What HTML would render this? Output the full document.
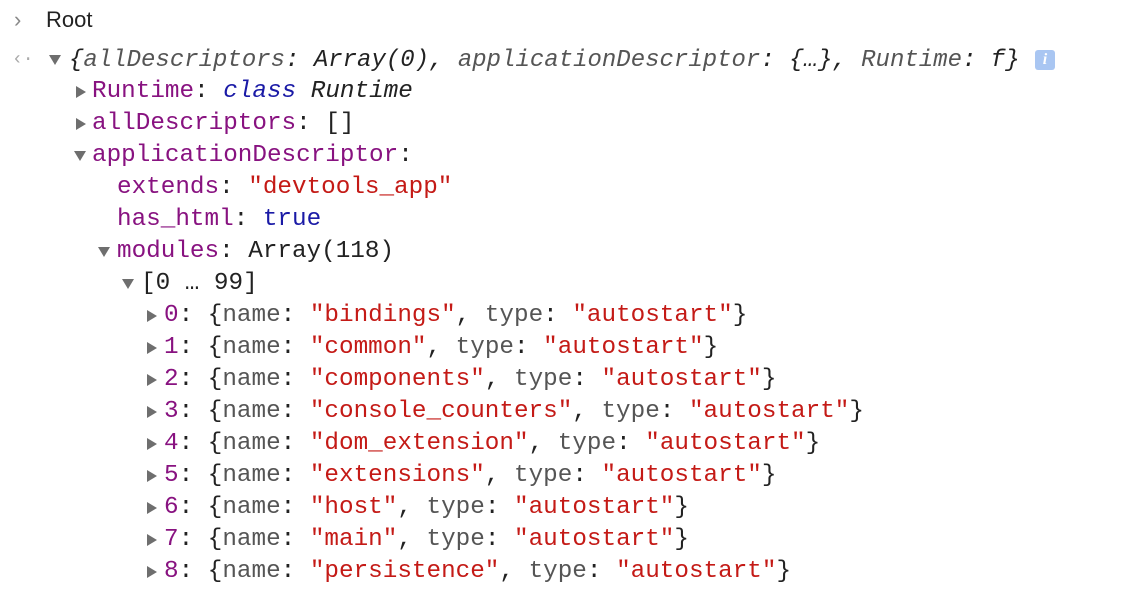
<!DOCTYPE html>
<html><head><meta charset="utf-8"><style>
html,body{margin:0;padding:0;background:#fff;width:1144px;height:592px;overflow:hidden}
.l{position:absolute;height:32px;line-height:32px;font-family:"Liberation Mono","DejaVu Sans Mono",monospace;font-size:24.3px;color:#222;white-space:pre}
.k{color:#881280}.s{color:#c41a16}.b{color:#1a1aa6}.g{color:#555}.i{font-style:italic}
.tr{position:absolute;width:0;height:0;border-top:6px solid transparent;border-bottom:6px solid transparent;border-left:10px solid #6e6e6e}
.td{position:absolute;width:0;height:0;border-left:6px solid transparent;border-right:6px solid transparent;border-top:10px solid #6e6e6e}
</style></head><body>
<div class="l" style="left:14px;top:4px;color:#888;font-family:'Liberation Sans',sans-serif;font-size:22px">›</div>
<div class="l" style="left:46px;top:4px;font-family:'Liberation Sans',sans-serif;font-size:22px;color:#222">Root</div>
<div class="l" style="left:12px;top:44px;color:#aaa;font-size:18px">‹·</div>
<div class="td" style="left:49px;top:55px"></div>
<div class="l i" style="left:69px;top:45px;font-size:24px">{<span class="g">allDescriptors</span>: Array(0), <span class="g">applicationDescriptor</span>: {…}, <span class="g">Runtime</span>: f}</div>
<div style="position:absolute;left:1035px;top:50px;width:20px;height:20px;background:#a9c6f2;border-radius:3px;color:#fff;font:italic bold 16px 'Liberation Serif',serif;text-align:center;line-height:20px">i</div>

<div class="tr" style="left:76px;top:86px"></div>
<div class="l" style="left:92px;top:76px"><span class="k">Runtime</span>: <span class="b i">class</span> <span class="i">Runtime</span></div>
<div class="tr" style="left:76px;top:118px"></div>
<div class="l" style="left:92px;top:108px"><span class="k">allDescriptors</span>: []</div>
<div class="td" style="left:74px;top:151px"></div>
<div class="l" style="left:92px;top:140px"><span class="k">applicationDescriptor</span>:</div>
<div class="l" style="left:117px;top:172px"><span class="k">extends</span>: <span class="s">"devtools_app"</span></div>
<div class="l" style="left:117px;top:204px"><span class="k">has_html</span>: <span class="b">true</span></div>
<div class="td" style="left:98px;top:247px"></div>
<div class="l" style="left:117px;top:236px"><span class="k">modules</span>: Array(118)</div>
<div class="td" style="left:122px;top:279px"></div>
<div class="l" style="left:141px;top:268px">[0 … 99]</div>

<div class="tr" style="left:147px;top:310px"></div>
<div class="l" style="left:164px;top:300px"><span class="k">0</span>: {<span class="g">name</span>: <span class="s">"bindings"</span>, <span class="g">type</span>: <span class="s">"autostart"</span>}</div>
<div class="tr" style="left:147px;top:342px"></div>
<div class="l" style="left:164px;top:332px"><span class="k">1</span>: {<span class="g">name</span>: <span class="s">"common"</span>, <span class="g">type</span>: <span class="s">"autostart"</span>}</div>
<div class="tr" style="left:147px;top:374px"></div>
<div class="l" style="left:164px;top:364px"><span class="k">2</span>: {<span class="g">name</span>: <span class="s">"components"</span>, <span class="g">type</span>: <span class="s">"autostart"</span>}</div>
<div class="tr" style="left:147px;top:406px"></div>
<div class="l" style="left:164px;top:396px"><span class="k">3</span>: {<span class="g">name</span>: <span class="s">"console_counters"</span>, <span class="g">type</span>: <span class="s">"autostart"</span>}</div>
<div class="tr" style="left:147px;top:438px"></div>
<div class="l" style="left:164px;top:428px"><span class="k">4</span>: {<span class="g">name</span>: <span class="s">"dom_extension"</span>, <span class="g">type</span>: <span class="s">"autostart"</span>}</div>
<div class="tr" style="left:147px;top:470px"></div>
<div class="l" style="left:164px;top:460px"><span class="k">5</span>: {<span class="g">name</span>: <span class="s">"extensions"</span>, <span class="g">type</span>: <span class="s">"autostart"</span>}</div>
<div class="tr" style="left:147px;top:502px"></div>
<div class="l" style="left:164px;top:492px"><span class="k">6</span>: {<span class="g">name</span>: <span class="s">"host"</span>, <span class="g">type</span>: <span class="s">"autostart"</span>}</div>
<div class="tr" style="left:147px;top:534px"></div>
<div class="l" style="left:164px;top:524px"><span class="k">7</span>: {<span class="g">name</span>: <span class="s">"main"</span>, <span class="g">type</span>: <span class="s">"autostart"</span>}</div>
<div class="tr" style="left:147px;top:566px"></div>
<div class="l" style="left:164px;top:556px"><span class="k">8</span>: {<span class="g">name</span>: <span class="s">"persistence"</span>, <span class="g">type</span>: <span class="s">"autostart"</span>}</div>
</body></html>
